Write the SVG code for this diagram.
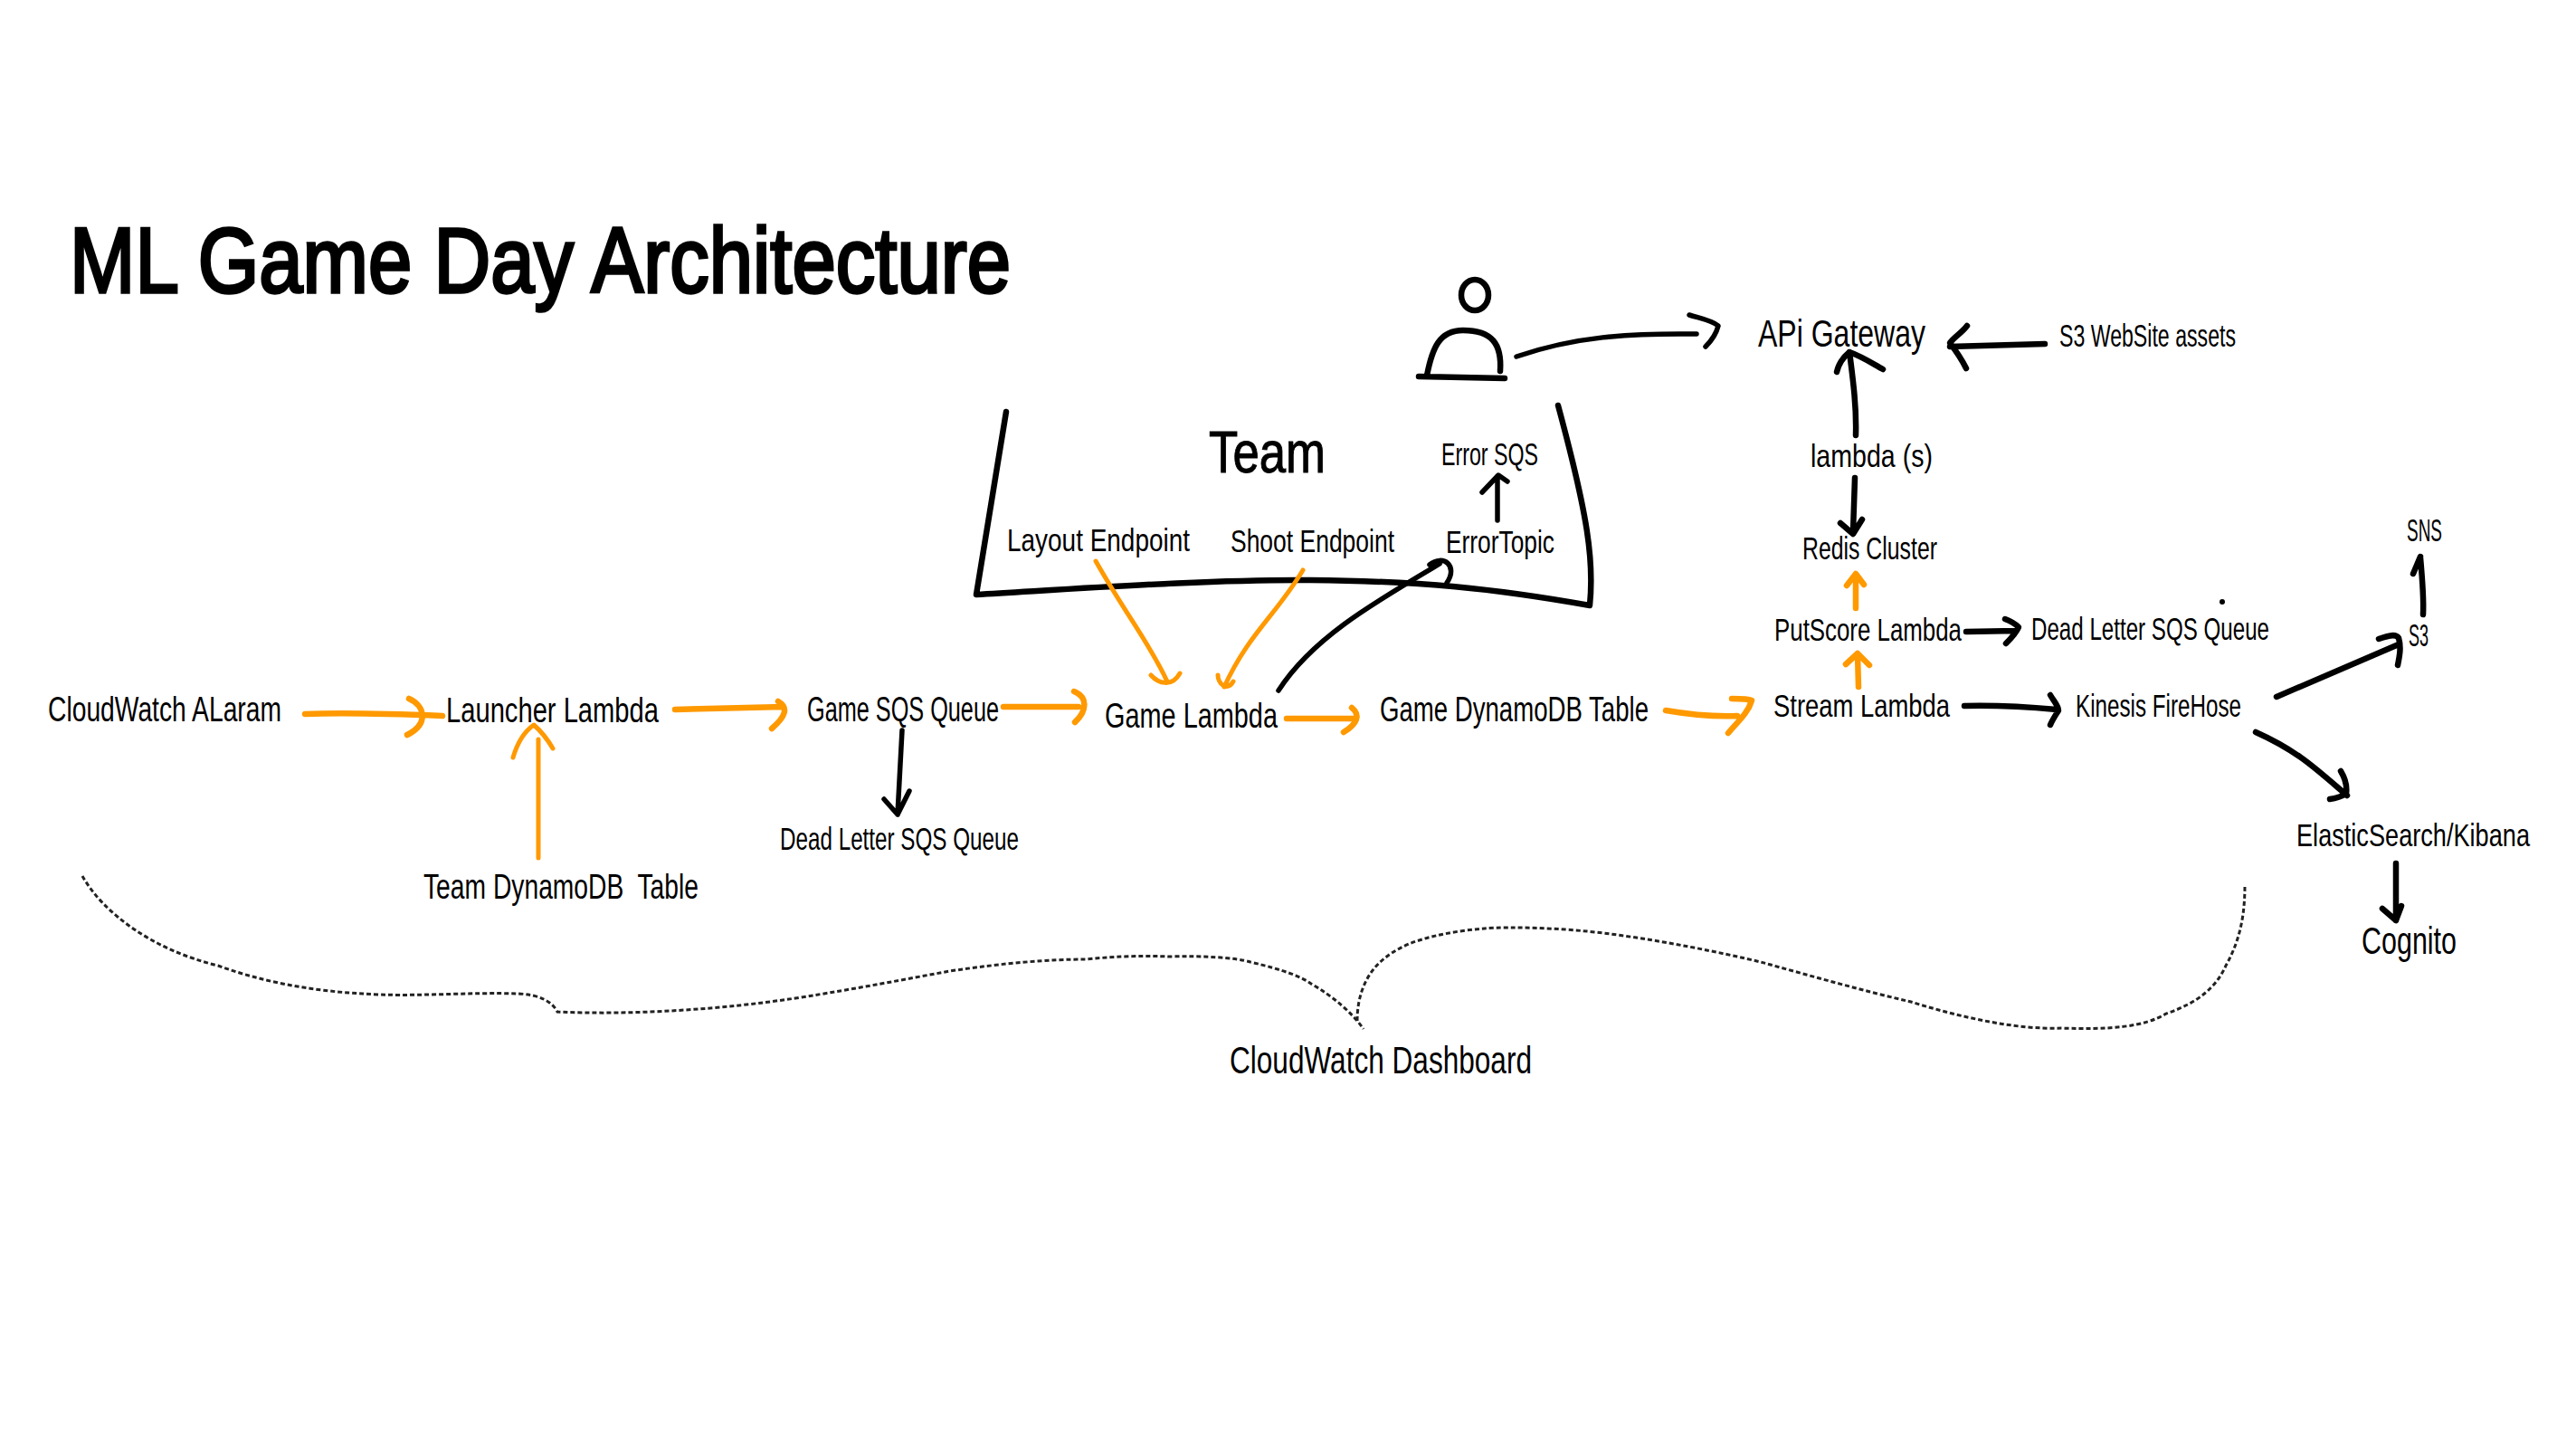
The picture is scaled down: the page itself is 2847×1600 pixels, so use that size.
<svg xmlns="http://www.w3.org/2000/svg" width="2847" height="1600" viewBox="0 0 2847 1600">
<style>
text{font-family:"Liberation Sans Narrow","Liberation Sans","DejaVu Sans",sans-serif;fill:#000}
.t{font-size:35px}
.m{font-size:38px}
.l{font-size:43px}
.team{font-size:64px;stroke:#000;stroke-width:1}
.title{font-size:102px;stroke:#000;stroke-width:3.5}
.o,.o2,.k,.b{fill:none;stroke-linecap:round;stroke-linejoin:round}
.o{stroke:#ff9900;stroke-width:6.5}
.o2{stroke:#ff9900;stroke-width:5}
.k{stroke:#000;stroke-width:5.5}
.b{stroke:#000;stroke-width:6.5}
.d{fill:none;stroke:#222;stroke-width:3;stroke-dasharray:5 3}
</style>
<rect width="2847" height="1600" fill="#fff"/>
<g id="title"><text class="title" x="77" y="323" textLength="1040" lengthAdjust="spacingAndGlyphs">ML Game Day Architecture</text></g>
<g id="team-box"><path class="b" d="M1112 455L1079 657C1200 650 1340 640 1448 641C1570 642 1650 650 1757 669C1762 620 1755 570 1722 448"/><text class="team" x="1336" y="522" textLength="129" lengthAdjust="spacingAndGlyphs">Team</text></g>
<g id="user"><ellipse class="b" cx="1630" cy="326" rx="15" ry="17"/><path class="b" d="M1577 415C1583 384 1591 365 1617 365C1649 365 1660 380 1658 410M1568 416L1663 418"/></g>
<g id="cloudwatch-alarm"><text class="m" x="53" y="797" textLength="258" lengthAdjust="spacingAndGlyphs">CloudWatch ALaram</text></g>
<g id="launcher-lambda"><text class="m" x="493" y="798" textLength="235" lengthAdjust="spacingAndGlyphs">Launcher Lambda</text></g>
<g id="team-dynamodb"><text class="m" x="468" y="993" textLength="304" lengthAdjust="spacingAndGlyphs" style="white-space:pre">Team DynamoDB  Table</text></g>
<g id="game-sqs"><text class="m" x="892" y="797" textLength="212" lengthAdjust="spacingAndGlyphs">Game SQS Queue</text></g>
<g id="dead-letter-1"><text class="t" x="862" y="939" textLength="264" lengthAdjust="spacingAndGlyphs">Dead Letter SQS Queue</text></g>
<g id="game-lambda"><text class="m" x="1221" y="804" textLength="191" lengthAdjust="spacingAndGlyphs">Game Lambda</text></g>
<g id="game-dynamodb"><text class="m" x="1525" y="797" textLength="297" lengthAdjust="spacingAndGlyphs">Game DynamoDB Table</text></g>
<g id="layout-endpoint"><text class="t" x="1113" y="609" textLength="202" lengthAdjust="spacingAndGlyphs">Layout Endpoint</text></g>
<g id="shoot-endpoint"><text class="t" x="1360" y="610" textLength="181" lengthAdjust="spacingAndGlyphs">Shoot Endpoint</text></g>
<g id="error-topic"><text class="t" x="1598" y="611" textLength="120" lengthAdjust="spacingAndGlyphs">ErrorTopic</text></g>
<g id="error-sqs"><text class="t" x="1593" y="514" textLength="107" lengthAdjust="spacingAndGlyphs">Error SQS</text></g>
<g id="api-gateway"><text class="l" x="1943" y="383" textLength="185" lengthAdjust="spacingAndGlyphs">APi Gateway</text></g>
<g id="s3-website"><text class="t" x="2276" y="383" textLength="195" lengthAdjust="spacingAndGlyphs">S3 WebSite assets</text></g>
<g id="lambdas"><text class="t" x="2001" y="516" textLength="135" lengthAdjust="spacingAndGlyphs">lambda (s)</text></g>
<g id="redis"><text class="t" x="1992" y="618" textLength="149" lengthAdjust="spacingAndGlyphs">Redis Cluster</text></g>
<g id="putscore"><text class="t" x="1961" y="708" textLength="207" lengthAdjust="spacingAndGlyphs">PutScore Lambda</text></g>
<g id="dead-letter-2"><text class="t" x="2245" y="707" textLength="263" lengthAdjust="spacingAndGlyphs">Dead Letter SQS Queue</text><circle cx="2456" cy="665" r="3"/></g>
<g id="stream-lambda"><text class="t" x="1960" y="792" textLength="195" lengthAdjust="spacingAndGlyphs">Stream Lambda</text></g>
<g id="kinesis"><text class="t" x="2294" y="792" textLength="183" lengthAdjust="spacingAndGlyphs">Kinesis FireHose</text></g>
<g id="sns"><text class="t" x="2660" y="598" textLength="39" lengthAdjust="spacingAndGlyphs">SNS</text></g>
<g id="s3"><text class="t" x="2662" y="714" textLength="22" lengthAdjust="spacingAndGlyphs">S3</text></g>
<g id="elastic"><text class="t" x="2538" y="935" textLength="258" lengthAdjust="spacingAndGlyphs">ElasticSearch/Kibana</text></g>
<g id="cognito"><text class="l" x="2610" y="1054" textLength="105" lengthAdjust="spacingAndGlyphs">Cognito</text></g>
<g id="dashboard"><text class="l" x="1359" y="1186" textLength="334" lengthAdjust="spacingAndGlyphs">CloudWatch Dashboard</text></g>
<g id="connectors">
<path class="o" d="M337 789C390 787 440 789 489 791M452 772C470 780 474 800 450 812"/>
<path class="o" d="M746 784L866 781M860 775C872 782 868 792 853 805"/>
<path class="o2" d="M595 948L595 817M567 837C572 820 580 808 590 801C598 808 604 815 611 827"/>
<path class="k" d="M997 807L992 900M977 883L992 900L1005 874"/>
<path class="o" d="M1109 781L1192 781M1187 764C1202 770 1202 785 1188 798"/>
<path class="o" d="M1422 794L1499 794M1494 782C1504 790 1500 800 1485 809"/>
<path class="o2" d="M1211 620C1245 680 1270 710 1290 753M1272 746C1280 755 1295 760 1304 744"/>
<path class="o2" d="M1440 630C1410 680 1380 700 1353 759M1346 746C1346 755 1356 765 1363 753"/>
<path class="k" d="M1413 763C1450 705 1520 665 1591 623M1580 624C1595 612 1612 625 1599 644"/>
<path class="k" d="M1655 575L1655 526M1638 544L1656 525L1666 532"/>
<path class="k" d="M1676 394C1740 372 1800 368 1875 369M1867 348C1880 352 1892 354 1899 360C1897 368 1892 376 1885 383"/>
<path class="b" d="M2260 380L2155 383M2174 360C2168 368 2160 372 2155 379C2162 388 2168 397 2173 407"/>
<path class="b" d="M2051 481C2052 450 2048 420 2044 389M2030 411C2032 402 2038 394 2044 389C2058 394 2070 402 2081 408"/>
<path class="b" d="M2050 528L2048 588M2034 578L2048 590L2058 574"/>
<path class="o" d="M2051 672L2051 637M2041 647L2051 634L2060 646"/>
<path class="o" d="M2054 759L2053 723M2040 734L2053 722L2066 735"/>
<path class="b" d="M2173 698L2228 697M2216 684C2224 687 2228 690 2231 693C2228 700 2222 706 2217 711"/>
<path class="b" d="M2171 780C2210 779 2240 781 2273 784M2266 768C2270 775 2275 780 2275 785C2272 790 2268 796 2266 801"/>
<path class="o" d="M1841 785C1870 790 1895 792 1920 791M1914 772C1925 772 1932 772 1936 774C1932 788 1920 798 1910 810"/>
<path class="b" d="M2516 770L2651 712M2629 706C2640 702 2648 700 2651 705C2654 715 2652 725 2650 735"/>
<path class="b" d="M2493 809C2540 830 2560 850 2594 879M2587 852C2593 862 2594 870 2593 877C2588 880 2582 882 2575 883"/>
<path class="b" d="M2678 679C2679 660 2677 638 2675 616M2667 634L2675 615"/>
<path class="b" d="M2648 954L2648 1017M2633 1004L2648 1017L2654 1001"/>
<path class="d" d="M91 968C115 1010 170 1050 241 1067C290 1085 345 1095 401 1098C450 1102 520 1096 573 1098C595 1099 610 1106 616 1118C700 1122 800 1115 879 1103C950 1092 1000 1082 1050 1073C1110 1064 1160 1060 1200 1060C1240 1056 1270 1056 1291 1057C1330 1056 1365 1058 1382 1063C1420 1072 1440 1080 1449 1087C1475 1102 1495 1120 1507 1137"/>
<path class="d" d="M1500 1128C1500 1115 1502 1102 1507 1090C1515 1070 1530 1055 1557 1043C1590 1030 1640 1024 1673 1025C1710 1025 1750 1028 1780 1032C1840 1040 1900 1052 1946 1063C2000 1078 2060 1095 2112 1107C2170 1125 2230 1138 2278 1136C2330 1138 2370 1135 2394 1120C2430 1108 2450 1090 2460 1067C2478 1035 2481 1005 2481 977"/>
</g>
</svg>
